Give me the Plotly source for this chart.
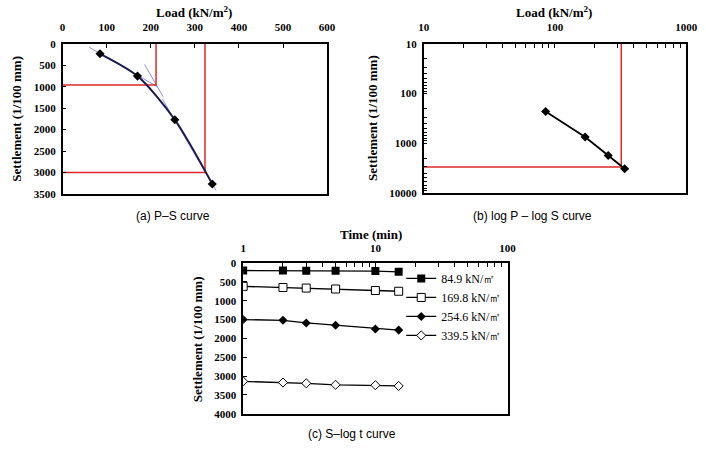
import plotly.graph_objects as go

# ---------------- data ----------------
loads = [84.9, 169.8, 254.6, 339.5]
settlements = [230, 750, 1770, 3270]

# yield construction lines (panel a)
red_a1_x = [0, 212, 212]
red_a1_y = [960, 960, 0]
red_a2_x = [0, 323, 323]
red_a2_y = [3000, 3000, 0]
tan1_x = [60, 215]
tan1_y = [75, 1000]
tan2_x = [186, 228]
tan2_y = [480, 1230]
tan3_x = [226, 348]
tan3_y = [1280, 3420]

# panel b construction lines
red_b_x = [10, 320, 320]
red_b_y = [3000, 3000, 10]

# panel c
time_min = [1, 2, 3, 5, 10, 15]
s_849 = [200, 200, 205, 205, 215, 235]
s_1698 = [620, 650, 665, 690, 730, 750]
s_2546 = [1500, 1520, 1590, 1650, 1750, 1780]
s_3395 = [3140, 3170, 3190, 3230, 3240, 3260]
series_names = ["84.9 kN/㎡", "169.8 kN/㎡", "254.6 kN/㎡", "339.5 kN/㎡"]

a_xticks = [0, 100, 200, 300, 400, 500, 600]
a_yticks = [0, 500, 1000, 1500, 2000, 2500, 3000, 3500]
b_ticks = [10, 100, 1000, 10000]
c_xticks = [1, 10, 100]
c_yticks = [0, 500, 1000, 1500, 2000, 2500, 3000, 3500, 4000]
digits = [1, 2, 3, 4, 5, 6, 7, 8, 9]


def log_ticks(decades, labelled):
    vals = [d * m for m in decades for d in digits] + [decades[-1] * 10]
    text = [str(v) if v in labelled else "" for v in vals]
    return vals, text


b_x_vals, b_x_text = log_ticks([10, 100], b_ticks)
b_y_vals, b_y_text = log_ticks([10, 100, 1000], b_ticks)
c_x_vals, c_x_text = log_ticks([1, 10], c_xticks)

W, H = 706, 451
RED = "#e02828"
TAN = "#8c8ce6"
NAVY = "#1a1a4e"

fig = go.Figure()

# ---- panel a ----
for xs, ys in [(tan1_x, tan1_y), (tan2_x, tan2_y), (tan3_x, tan3_y)]:
    fig.add_trace(go.Scatter(x=xs, y=ys, mode="lines", line=dict(color=TAN, width=1),
                             xaxis="x", yaxis="y", showlegend=False, hoverinfo="skip"))
for xs, ys in [(red_a1_x, red_a1_y), (red_a2_x, red_a2_y)]:
    fig.add_trace(go.Scatter(x=xs, y=ys, mode="lines", line=dict(color=RED, width=1.5),
                             xaxis="x", yaxis="y", showlegend=False, hoverinfo="skip"))
fig.add_trace(go.Scatter(x=loads, y=settlements, mode="lines+markers",
                         line=dict(color=NAVY, width=2, shape="spline", smoothing=0.8),
                         marker=dict(symbol="diamond", size=7, color="black"),
                         xaxis="x", yaxis="y", showlegend=False))

# ---- panel b ----
fig.add_trace(go.Scatter(x=red_b_x, y=red_b_y, mode="lines", line=dict(color=RED, width=1.5),
                         xaxis="x2", yaxis="y2", showlegend=False, hoverinfo="skip"))
fig.add_trace(go.Scatter(x=loads, y=settlements, mode="lines+markers",
                         line=dict(color="black", width=1.8),
                         marker=dict(symbol="diamond", size=7, color="black"),
                         xaxis="x2", yaxis="y2", showlegend=False))

# ---- panel c ----
c_series = [s_849, s_1698, s_2546, s_3395]
c_markers = [
    dict(symbol="square", size=8, color="black"),
    dict(symbol="square", size=8, color="white", line=dict(color="black", width=1)),
    dict(symbol="diamond", size=7, color="black"),
    dict(symbol="diamond", size=7, color="white", line=dict(color="black", width=1)),
]
for ys, mk, nm in zip(c_series, c_markers, series_names):
    fig.add_trace(go.Scatter(x=time_min, y=ys, mode="lines+markers", name=nm,
                             line=dict(color="black", width=1.3), marker=mk,
                             xaxis="x3", yaxis="y3"))

tickfont = dict(family="Liberation Serif", size=11, color="black", weight="bold")
axcommon = dict(showline=True, linecolor="black", linewidth=1.5, mirror=True,
                ticks="inside", ticklen=4, tickcolor="black", tickwidth=1,
                showgrid=False, zeroline=False, tickfont=tickfont)
xcommon = dict(axcommon, ticklabelstandoff=7)
ycommon = dict(axcommon, ticklabelstandoff=3)

fig.update_layout(
    width=W, height=H,
    margin=dict(l=0, r=0, t=0, b=0),
    paper_bgcolor="white", plot_bgcolor="white",
    xaxis=dict(domain=[58 / W, 329 / W], anchor="y", side="top", range=[0, 600],
               tickvals=a_xticks, **xcommon),
    yaxis=dict(domain=[1 - 193 / H, 1 - 39 / H], anchor="x", range=[3500, 0],
               tickvals=a_yticks, **ycommon),
    xaxis2=dict(domain=[428 / W, 697 / W], anchor="y2", side="top", type="log",
                range=[1, 3], tickvals=b_x_vals, ticktext=b_x_text, **xcommon),
    yaxis2=dict(domain=[1 - 192 / H, 1 - 39 / H], anchor="x2", type="log",
                range=[4, 1], tickvals=b_y_vals, ticktext=b_y_text, **ycommon),
    xaxis3=dict(domain=[243 / W, 514 / W], anchor="y3", side="top", type="log",
                range=[0, 2], tickvals=c_x_vals, ticktext=c_x_text, **dict(xcommon, ticklabelstandoff=5)),
    yaxis3=dict(domain=[1 - 419 / H, 1 - 264 / H], anchor="x3", range=[4000, 0],
                tickvals=c_yticks, **ycommon),
    legend=dict(x=405 / W, y=1 - 265 / H, xanchor="left", yanchor="top",
                bgcolor="rgba(0,0,0,0)", borderwidth=0, itemwidth=30,
                tracegroupgap=0,
                font=dict(family="Liberation Serif", size=12, color="black")),
)

tfont = dict(family="Liberation Serif", size=13, color="black", weight="bold")
ann = [
    dict(x=193 / W, y=1 - 6 / H, text="Load (kN/m<sup>2</sup>)", font=tfont),
    dict(x=562 / W, y=1 - 6 / H, text="Load (kN/m<sup>2</sup>)", font=tfont),
    dict(x=374 / W, y=1 - 235 / H, text="Time (min)", font=tfont),
    dict(x=11 / W, y=1 - 116 / H, text="Settlement (1/100 mm)", font=tfont, textangle=-90),
    dict(x=376 / W, y=1 - 115 / H, text="Settlement (1/100 mm)", font=tfont, textangle=-90),
    dict(x=197 / W, y=1 - 342 / H, text="Settlement (1/100 mm)", font=tfont, textangle=-90),
]
cfont = dict(family="Liberation Sans", size=12, color="black")
ann += [
    dict(x=171 / W, y=1 - 216 / H, text="(a) P–S curve", font=cfont),
    dict(x=540 / W, y=1 - 216 / H, text="(b) log P – log S curve", font=cfont),
    dict(x=355 / W, y=1 - 440 / H, text="(c) S–log t curve", font=cfont),
]
for a in ann:
    a.update(xref="paper", yref="paper", showarrow=False, xanchor="center", yanchor="middle")
    fig.add_annotation(**a)

fig.write_html("out.html")
